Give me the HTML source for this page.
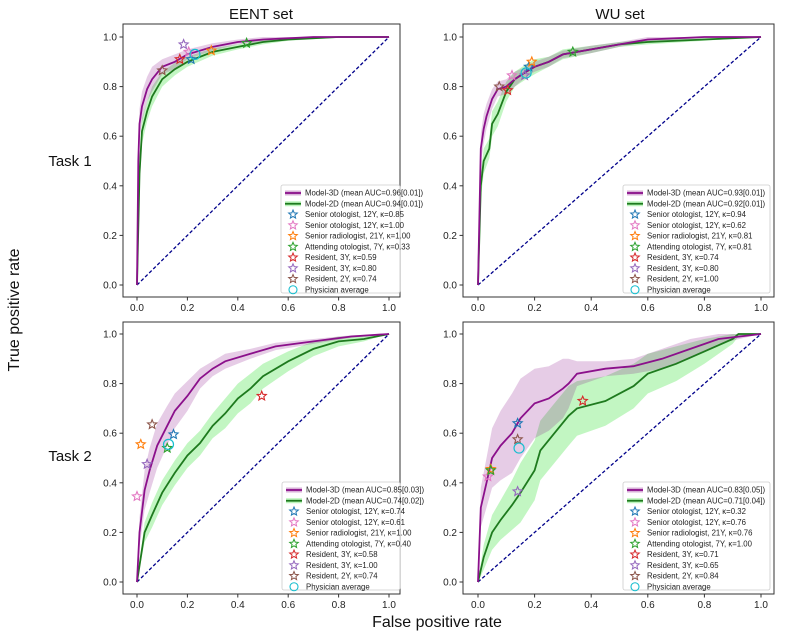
<!DOCTYPE html>
<html><head><meta charset="utf-8">
<style>
html,body{margin:0;padding:0;background:#fff;}
svg{display:block;font-family:"Liberation Sans",sans-serif;}
</style></head>
<body>
<svg id="fig" width="800" height="640" viewBox="0 0 800 640">
<text x="261" y="19" font-size="15" text-anchor="middle" fill="#111">EENT set</text>
<text x="620" y="19" font-size="15" text-anchor="middle" fill="#111">WU set</text>
<text x="70" y="166" font-size="15" text-anchor="middle" fill="#111">Task 1</text>
<text x="70" y="461" font-size="15" text-anchor="middle" fill="#111">Task 2</text>
<text x="0" y="0" transform="translate(19,310) rotate(-90)" font-size="16" text-anchor="middle" fill="#111">True positive rate</text>
<text x="437" y="627" font-size="16" text-anchor="middle" fill="#111">False positive rate</text>
</svg>
<script>
// ---------- data ----------
const ticks = [0, 0.2, 0.4, 0.6, 0.8, 1.0];
const tickLabels = ["0.0","0.2","0.4","0.6","0.8","1.0"];
const raterNames = ["Senior otologist, 12Y","Senior otologist, 12Y","Senior radiologist, 21Y","Attending otologist, 7Y","Resident, 3Y","Resident, 3Y","Resident, 2Y"];

// EENT Task 1
const p1_fpr3d = [0,0.005,0.01,0.02,0.04,0.06,0.1,0.15,0.2,0.3,0.4,0.5,0.7,1];
const p1_tpr3d = [0,0.5,0.65,0.72,0.79,0.83,0.88,0.9,0.93,0.96,0.98,0.99,1,1];
const p1_w3d   = [0,0.05,0.06,0.06,0.05,0.05,0.03,0.03,0.02,0.015,0.01,0.01,0.005,0];
const p1_fpr2d = [0,0.01,0.02,0.04,0.06,0.1,0.15,0.2,0.3,0.4,0.5,0.6,0.8,1];
const p1_tpr2d = [0,0.45,0.62,0.7,0.76,0.83,0.87,0.9,0.94,0.96,0.98,0.99,1,1];
const p1_w2d   = [0,0.05,0.05,0.04,0.04,0.03,0.025,0.02,0.015,0.01,0.01,0.005,0.003,0];
const p1_rx = [0.215,0.205,0.295,0.435,0.17,0.185,0.1];
const p1_ry = [0.91,0.94,0.945,0.975,0.91,0.97,0.865];
const p1_kappa = ["0.85","1.00","1.00","0.33","0.59","0.80","0.74"];
const p1_avg = [0.23,0.93];
const p1_auc = ["0.96[0.01])","0.94[0.01])"];

// WU Task 1
const p2_fpr3d = [0,0.01,0.02,0.03,0.05,0.07,0.1,0.13,0.17,0.2,0.25,0.3,0.4,0.5,0.6,0.8,1];
const p2_tpr3d = [0,0.55,0.63,0.68,0.75,0.79,0.8,0.83,0.86,0.88,0.9,0.93,0.95,0.97,0.99,1,1];
const p2_w3d   = [0,0.06,0.06,0.05,0.04,0.03,0.03,0.03,0.02,0.02,0.02,0.015,0.015,0.01,0.01,0.005,0];
const p2_fpr2d = [0,0.01,0.02,0.04,0.05,0.07,0.1,0.13,0.17,0.2,0.25,0.3,0.4,0.5,0.6,0.8,1];
const p2_tpr2d = [0,0.4,0.5,0.55,0.65,0.69,0.78,0.83,0.86,0.88,0.9,0.93,0.95,0.97,0.98,0.99,1];
const p2_w2d   = [0,0.05,0.05,0.04,0.05,0.05,0.04,0.03,0.03,0.03,0.02,0.02,0.015,0.01,0.01,0.005,0];
const p2_rx = [0.18,0.12,0.19,0.335,0.105,0.165,0.075];
const p2_ry = [0.88,0.845,0.9,0.94,0.785,0.845,0.8];
const p2_kappa = ["0.94","0.62","0.81","0.81","0.74","0.80","1.00"];
const p2_avg = [0.17,0.855];
const p2_auc = ["0.93[0.01])","0.92[0.01])"];

// EENT Task 2
const p3_fpr3d = [0,0.01,0.03,0.05,0.08,0.12,0.15,0.2,0.25,0.3,0.35,0.45,0.55,0.7,0.85,1];
const p3_tpr3d = [0,0.2,0.37,0.45,0.55,0.63,0.69,0.75,0.82,0.86,0.89,0.92,0.95,0.97,0.99,1];
const p3_w3d   = [0,0.06,0.08,0.09,0.09,0.08,0.07,0.06,0.04,0.03,0.03,0.02,0.015,0.01,0.005,0];
const p3_fpr2d = [0,0.03,0.06,0.1,0.15,0.2,0.25,0.3,0.35,0.4,0.45,0.5,0.6,0.7,0.8,0.9,1];
const p3_tpr2d = [0,0.2,0.27,0.36,0.44,0.51,0.56,0.63,0.68,0.74,0.78,0.83,0.89,0.94,0.97,0.98,1];
const p3_w2d   = [0,0.04,0.05,0.05,0.05,0.05,0.05,0.05,0.06,0.06,0.06,0.05,0.04,0.03,0.02,0.01,0];
const p3_rx = [0.145,0,0.015,0.12,0.495,0.04,0.06];
const p3_ry = [0.595,0.345,0.555,0.54,0.75,0.475,0.635];
const p3_kappa = ["0.74","0.61","1.00","0.40","0.58","1.00","0.74"];
const p3_avg = [0.125,0.555];
const p3_auc = ["0.85[0.03])","0.74[0.02])"];

// WU Task 2
const p4_fpr3d = [0,0.01,0.03,0.05,0.08,0.12,0.15,0.2,0.25,0.3,0.32,0.35,0.45,0.55,0.65,0.75,0.85,1];
const p4_tpr3d = [0,0.3,0.4,0.5,0.55,0.6,0.66,0.72,0.74,0.78,0.8,0.84,0.86,0.87,0.9,0.94,0.98,1];
const p4_w3d   = [0,0.08,0.1,0.12,0.14,0.16,0.16,0.14,0.13,0.12,0.1,0.05,0.03,0.03,0.04,0.04,0.02,0];
const p4_fpr2d = [0,0.02,0.05,0.08,0.12,0.15,0.2,0.22,0.27,0.32,0.35,0.45,0.55,0.6,0.7,0.8,0.9,0.92,1];
const p4_tpr2d = [0,0.1,0.2,0.25,0.31,0.36,0.45,0.53,0.6,0.67,0.7,0.73,0.79,0.84,0.88,0.93,0.98,1,1];
const p4_w2d   = [0,0.05,0.07,0.08,0.1,0.12,0.12,0.12,0.12,0.12,0.11,0.1,0.09,0.08,0.07,0.05,0.02,0.01,0];
const p4_rx = [0.14,0.035,0.045,0.045,0.37,0.14,0.14];
const p4_ry = [0.64,0.425,0.455,0.45,0.73,0.365,0.575];
const p4_kappa = ["0.32","0.76","0.76","1.00","0.71","0.65","0.84"];
const p4_avg = [0.145,0.54];
const p4_auc = ["0.83[0.05])","0.71[0.04])"];

// ---------- drawing ----------
const NS = "http://www.w3.org/2000/svg";
const svg = document.getElementById("fig");
const starColors = ["#1f77b4","#e377c2","#ff7f0e","#2ca02c","#d62728","#9467bd","#8c564b"];
function mk(tag, parent){ const e=document.createElementNS(NS,tag); parent.appendChild(e); return e; }
function starPts(cx,cy,r){ let s=[]; for(let i=0;i<10;i++){ const a=-Math.PI/2+i*Math.PI/5; const rr=i%2?r*0.45:r; s.push((cx+rr*Math.cos(a)).toFixed(1)+","+(cy+rr*Math.sin(a)).toFixed(1)); } return s.join(" "); }

const panels = [
 {name:"eent-task1", box:[123,24,400,297], x0:137,x1:389,y0:285,y1:37, leg:[281,185,400,293],
  f3:p1_fpr3d,t3:p1_tpr3d,w3:p1_w3d,f2:p1_fpr2d,t2:p1_tpr2d,w2:p1_w2d,rx:p1_rx,ry:p1_ry,k:p1_kappa,avg:p1_avg,auc:p1_auc},
 {name:"wu-task1", box:[463,24,774,297], x0:478,x1:761,y0:285,y1:37, leg:[623,185,770,293],
  f3:p2_fpr3d,t3:p2_tpr3d,w3:p2_w3d,f2:p2_fpr2d,t2:p2_tpr2d,w2:p2_w2d,rx:p2_rx,ry:p2_ry,k:p2_kappa,avg:p2_avg,auc:p2_auc},
 {name:"eent-task2", box:[123,322,400,594], x0:137,x1:389,y0:582,y1:334, leg:[282,482,400,590],
  f3:p3_fpr3d,t3:p3_tpr3d,w3:p3_w3d,f2:p3_fpr2d,t2:p3_tpr2d,w2:p3_w2d,rx:p3_rx,ry:p3_ry,k:p3_kappa,avg:p3_avg,auc:p3_auc},
 {name:"wu-task2", box:[463,322,774,594], x0:478,x1:761,y0:582,y1:334, leg:[623,482,770,590],
  f3:p4_fpr3d,t3:p4_tpr3d,w3:p4_w3d,f2:p4_fpr2d,t2:p4_tpr2d,w2:p4_w2d,rx:p4_rx,ry:p4_ry,k:p4_kappa,avg:p4_avg,auc:p4_auc}
];

panels.forEach(P=>{
  const X=v=>P.x0+v*(P.x1-P.x0), Y=v=>P.y0+v*(P.y1-P.y0);
  const g=mk("g",svg);
  
  
  const [bx0,by0,bx1,by1]=P.box;
  function band(f,t,w,fill,op,nm){
    const up=f.map((v,i)=>X(v).toFixed(1)+","+Y(Math.min(1,t[i]+w[i])).toFixed(1));
    const lo=f.map((v,i)=>X(v).toFixed(1)+","+Y(Math.max(0,t[i]-w[i])).toFixed(1)).reverse();
    const p=mk("polygon",g); p.setAttribute("points",up.concat(lo).join(" "));
    p.setAttribute("fill",fill); p.setAttribute("fill-opacity",op);
    
    
  }
  band(P.f2,P.t2,P.w2,"#90ee90",0.55,"model-2d-band");
  band(P.f3,P.t3,P.w3,"#800080",0.2,"model-3d-band");
  const d=mk("line",g); d.setAttribute("x1",X(0)); d.setAttribute("y1",Y(0)); d.setAttribute("x2",X(1)); d.setAttribute("y2",Y(1));
  d.setAttribute("stroke","#00008b"); d.setAttribute("stroke-width","1.3"); d.setAttribute("stroke-dasharray","3.5,2.2");
  
  
  function line(f,t,col,nm){
    const l=mk("polyline",g); l.setAttribute("points",f.map((v,i)=>X(v).toFixed(1)+","+Y(t[i]).toFixed(1)).join(" "));
    l.setAttribute("fill","none"); l.setAttribute("stroke",col); l.setAttribute("stroke-width","1.8");
    
    
  }
  line(P.f2,P.t2,"#1e7a1e","model-2d-line");
  line(P.f3,P.t3,"#8b108b","model-3d-line");
  P.rx.forEach((v,i)=>{
    const s=mk("polygon",g); s.setAttribute("points",starPts(X(v),Y(P.ry[i]),4.8));
    s.setAttribute("fill","none"); s.setAttribute("stroke",starColors[i]); s.setAttribute("stroke-width","1.1");
    
    
  });
  const c=mk("circle",g); c.setAttribute("cx",X(P.avg[0])); c.setAttribute("cy",Y(P.avg[1])); c.setAttribute("r",5);
  c.setAttribute("fill","none"); c.setAttribute("stroke","#17becf"); c.setAttribute("stroke-width","1.2");
  
  
  const r=mk("rect",g); r.setAttribute("x",bx0); r.setAttribute("y",by0); r.setAttribute("width",bx1-bx0); r.setAttribute("height",by1-by0);
  r.setAttribute("fill","none"); r.setAttribute("stroke","#333"); r.setAttribute("stroke-width","1");
  
  
  ticks.forEach((tv,i)=>{
    const xt=mk("line",g); xt.setAttribute("x1",X(tv)); xt.setAttribute("x2",X(tv)); xt.setAttribute("y1",by1); xt.setAttribute("y2",by1+3.5); xt.setAttribute("stroke","#333");
    
    
    const xl=mk("text",g); xl.setAttribute("x",X(tv)); xl.setAttribute("y",by1+14); xl.setAttribute("font-size","10"); xl.setAttribute("text-anchor","middle"); xl.setAttribute("fill","#222"); xl.textContent=tickLabels[i];
    
    
    const yt=mk("line",g); yt.setAttribute("x1",bx0-3.5); yt.setAttribute("x2",bx0); yt.setAttribute("y1",Y(tv)); yt.setAttribute("y2",Y(tv)); yt.setAttribute("stroke","#333");
    
    
    const yl=mk("text",g); yl.setAttribute("x",bx0-6); yl.setAttribute("y",Y(tv)+3.5); yl.setAttribute("font-size","10"); yl.setAttribute("text-anchor","end"); yl.setAttribute("fill","#222"); yl.textContent=tickLabels[i];
    
    
  });
  const [lx0,ly0,lx1,ly1]=P.leg;
  const lg=mk("g",g);
  
  
  const lb=mk("rect",lg); lb.setAttribute("x",lx0); lb.setAttribute("y",ly0); lb.setAttribute("width",lx1-lx0); lb.setAttribute("height",ly1-ly0); lb.setAttribute("rx",2);
  lb.setAttribute("fill","#fff"); lb.setAttribute("fill-opacity","0.85"); lb.setAttribute("stroke","#ccc"); lb.setAttribute("stroke-width","0.8");
  
  
  const labels=["Model-3D (mean AUC="+P.auc[0],"Model-2D (mean AUC="+P.auc[1]];
  P.k.forEach((kv,i)=>labels.push(raterNames[i]+", κ="+kv));
  labels.push("Physician average");
  labels.forEach((t,i)=>{
    const cy=ly0+8+i*10.75;
    const hx=lx0+10;
    if(i<2){
      const bb=mk("rect",lg); bb.setAttribute("x",lx0+4); bb.setAttribute("y",cy-2.5); bb.setAttribute("width",16); bb.setAttribute("height",5);
      bb.setAttribute("fill",i==0?"#800080":"#90ee90"); bb.setAttribute("fill-opacity",i==0?0.3:0.6);
      
      
      const ll=mk("line",lg); ll.setAttribute("x1",lx0+4); ll.setAttribute("x2",lx0+20); ll.setAttribute("y1",cy); ll.setAttribute("y2",cy);
      ll.setAttribute("stroke",i==0?"#8b108b":"#1e7a1e"); ll.setAttribute("stroke-width","1.8");
      
      
    } else if(i<9){
      const s=mk("polygon",lg); s.setAttribute("points",starPts(hx+2,cy,4.5)); s.setAttribute("fill","none"); s.setAttribute("stroke",starColors[i-2]); s.setAttribute("stroke-width","1");
      
      
    } else {
      const cc=mk("circle",lg); cc.setAttribute("cx",hx+2); cc.setAttribute("cy",cy); cc.setAttribute("r",4); cc.setAttribute("fill","none"); cc.setAttribute("stroke","#17becf"); cc.setAttribute("stroke-width","1.1");
      
      
    }
    const tx=mk("text",lg); tx.setAttribute("x",lx0+24); tx.setAttribute("y",cy+2.7); tx.setAttribute("font-size","7.8"); tx.setAttribute("fill","#222"); tx.textContent=t;
    
    
  });
});
</script>
</body></html>
